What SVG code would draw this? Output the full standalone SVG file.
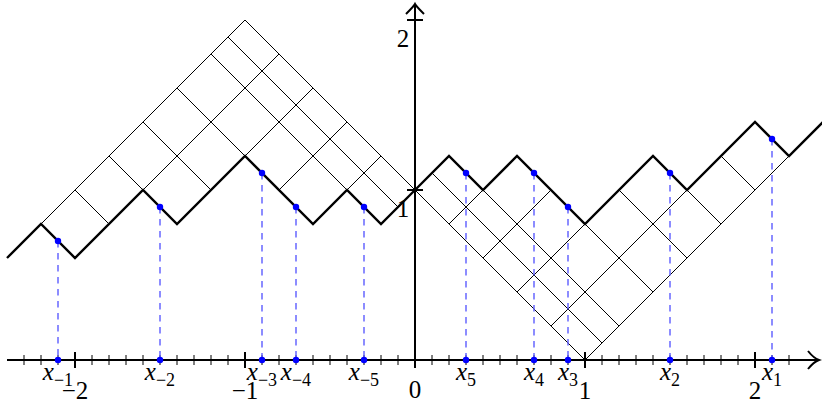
<svg xmlns="http://www.w3.org/2000/svg" width="822" height="405" viewBox="0 0 822 405">
<style>
.grid{stroke:#000;stroke-width:1;fill:none}
.prof{stroke:#000;stroke-width:2.4;fill:none;stroke-linejoin:miter}
.axis{stroke:#000;stroke-width:2;fill:none}
.minor{stroke:#000;stroke-width:1}
.major{stroke:#000;stroke-width:2}
.dash{stroke:#5c5cff;stroke-width:1.4;stroke-dasharray:6.5,5.5}
.dot{fill:#0000ff}
.lab{font-family:"Liberation Serif","DejaVu Serif",serif;font-size:25px;fill:#000;text-anchor:middle}
.var{font-style:italic}
.sub{font-size:18px;font-style:normal}
</style>
<rect width="822" height="405" fill="#fff"/>
<g id="grid" class="grid">
  <!-- left region -->
  <line x1="41" y1="224" x2="245" y2="20"/>
  <line x1="245" y1="20" x2="585" y2="360"/>
  <line x1="75" y1="190" x2="109" y2="224"/>
  <line x1="109" y1="156" x2="143" y2="190"/>
  <line x1="143" y1="122" x2="211" y2="190"/>
  <line x1="177" y1="88" x2="245" y2="156"/>
  <line x1="211" y1="54" x2="347" y2="190"/>
  <line x1="228" y1="37" x2="398" y2="207"/>
  <line x1="143" y1="190" x2="279" y2="54"/>
  <line x1="245" y1="156" x2="313" y2="88"/>
  <line x1="279" y1="190" x2="347" y2="122"/>
  <line x1="347" y1="190" x2="381" y2="156"/>
  <!-- right region -->
  <line x1="585" y1="360" x2="789" y2="156"/>
  <line x1="449" y1="224" x2="483" y2="190"/>
  <line x1="483" y1="258" x2="551" y2="190"/>
  <line x1="517" y1="292" x2="585" y2="224"/>
  <line x1="551" y1="326" x2="687" y2="190"/>
  <line x1="432" y1="173" x2="602" y2="343"/>
  <line x1="449" y1="156" x2="619" y2="326"/>
  <line x1="517" y1="156" x2="653" y2="292"/>
  <line x1="619" y1="190" x2="687" y2="258"/>
  <line x1="653" y1="156" x2="721" y2="224"/>
  <line x1="721" y1="156" x2="755" y2="190"/>
</g>
<g id="profile">
  <polyline class="prof" points="7,258 41,224 75,258 143,190 177,224 245,156 313,224 347,190 381,224 415,190 449,156 483,190 517,156 585,224 653,156 687,190 755,122 789,156 824,121"/>
</g>
<g id="axes">
  <line class="axis" x1="7" y1="360" x2="818" y2="360"/>
  <path class="axis" d="M808,351 C812,356 816,359 819,360 C816,361 812,364 808,369"/>
  <line class="axis" x1="415" y1="360" x2="415" y2="5"/>
  <path class="axis" d="M406,14 C411,9 414,6 415,4 C416,6 419,9 424,14"/>
  <g class="minor">
    <line x1="24" y1="355" x2="24" y2="365"/><line x1="41" y1="355" x2="41" y2="365"/><line x1="58" y1="355" x2="58" y2="365"/>
    <line x1="92" y1="355" x2="92" y2="365"/><line x1="109" y1="355" x2="109" y2="365"/><line x1="126" y1="355" x2="126" y2="365"/>
    <line x1="143" y1="355" x2="143" y2="365"/><line x1="160" y1="355" x2="160" y2="365"/><line x1="177" y1="355" x2="177" y2="365"/>
    <line x1="194" y1="355" x2="194" y2="365"/><line x1="211" y1="355" x2="211" y2="365"/><line x1="228" y1="355" x2="228" y2="365"/>
    <line x1="262" y1="355" x2="262" y2="365"/><line x1="279" y1="355" x2="279" y2="365"/><line x1="296" y1="355" x2="296" y2="365"/>
    <line x1="313" y1="355" x2="313" y2="365"/><line x1="330" y1="355" x2="330" y2="365"/><line x1="347" y1="355" x2="347" y2="365"/>
    <line x1="364" y1="355" x2="364" y2="365"/><line x1="381" y1="355" x2="381" y2="365"/><line x1="398" y1="355" x2="398" y2="365"/>
    <line x1="432" y1="355" x2="432" y2="365"/><line x1="449" y1="355" x2="449" y2="365"/><line x1="466" y1="355" x2="466" y2="365"/>
    <line x1="483" y1="355" x2="483" y2="365"/><line x1="500" y1="355" x2="500" y2="365"/><line x1="517" y1="355" x2="517" y2="365"/>
    <line x1="534" y1="355" x2="534" y2="365"/><line x1="551" y1="355" x2="551" y2="365"/><line x1="568" y1="355" x2="568" y2="365"/>
    <line x1="602" y1="355" x2="602" y2="365"/><line x1="619" y1="355" x2="619" y2="365"/><line x1="636" y1="355" x2="636" y2="365"/>
    <line x1="653" y1="355" x2="653" y2="365"/><line x1="670" y1="355" x2="670" y2="365"/><line x1="687" y1="355" x2="687" y2="365"/>
    <line x1="704" y1="355" x2="704" y2="365"/><line x1="721" y1="355" x2="721" y2="365"/><line x1="738" y1="355" x2="738" y2="365"/>
    <line x1="772" y1="355" x2="772" y2="365"/><line x1="789" y1="355" x2="789" y2="365"/>
  </g>
  <g class="major">
    <line x1="75" y1="352" x2="75" y2="368"/>
    <line x1="245" y1="352" x2="245" y2="368"/>
    <line x1="415" y1="352" x2="415" y2="368"/>
    <line x1="585" y1="352" x2="585" y2="368"/>
    <line x1="755" y1="352" x2="755" y2="368"/>
    <line x1="407" y1="190" x2="423" y2="190"/>
    <line x1="407" y1="20" x2="423" y2="20"/>
  </g>
  <g class="lab">
    <text x="75" y="399">−2</text>
    <text x="245" y="399">−1</text>
    <text x="415" y="398">0</text>
    <text x="585" y="399">1</text>
    <text x="755" y="399">2</text>
    <text x="403" y="217">1</text>
    <text x="403" y="47">2</text>
  </g>
</g>
<g id="points">
  <g id="p-m1"><line class="dash" x1="58" y1="241" x2="58" y2="360"/><circle class="dot" cx="58" cy="241" r="3.2"/><circle class="dot" cx="58" cy="360" r="3.2"/><text class="lab" x="58" y="380"><tspan class="var">x</tspan><tspan class="sub" dy="6">−1</tspan></text></g>
  <g id="p-m2"><line class="dash" x1="160" y1="207" x2="160" y2="360"/><circle class="dot" cx="160" cy="207" r="3.2"/><circle class="dot" cx="160" cy="360" r="3.2"/><text class="lab" x="160" y="380"><tspan class="var">x</tspan><tspan class="sub" dy="6">−2</tspan></text></g>
  <g id="p-m3"><line class="dash" x1="262" y1="173" x2="262" y2="360"/><circle class="dot" cx="262" cy="173" r="3.2"/><circle class="dot" cx="262" cy="360" r="3.2"/><text class="lab" x="262" y="380"><tspan class="var">x</tspan><tspan class="sub" dy="6">−3</tspan></text></g>
  <g id="p-m4"><line class="dash" x1="296" y1="207" x2="296" y2="360"/><circle class="dot" cx="296" cy="207" r="3.2"/><circle class="dot" cx="296" cy="360" r="3.2"/><text class="lab" x="296" y="380"><tspan class="var">x</tspan><tspan class="sub" dy="6">−4</tspan></text></g>
  <g id="p-m5"><line class="dash" x1="364" y1="207" x2="364" y2="360"/><circle class="dot" cx="364" cy="207" r="3.2"/><circle class="dot" cx="364" cy="360" r="3.2"/><text class="lab" x="364" y="380"><tspan class="var">x</tspan><tspan class="sub" dy="6">−5</tspan></text></g>
  <g id="p5"><line class="dash" x1="466" y1="173" x2="466" y2="360"/><circle class="dot" cx="466" cy="173" r="3.2"/><circle class="dot" cx="466" cy="360" r="3.2"/><text class="lab" x="466" y="380"><tspan class="var">x</tspan><tspan class="sub" dy="6">5</tspan></text></g>
  <g id="p4"><line class="dash" x1="534" y1="173" x2="534" y2="360"/><circle class="dot" cx="534" cy="173" r="3.2"/><circle class="dot" cx="534" cy="360" r="3.2"/><text class="lab" x="534" y="380"><tspan class="var">x</tspan><tspan class="sub" dy="6">4</tspan></text></g>
  <g id="p3"><line class="dash" x1="568" y1="207" x2="568" y2="360"/><circle class="dot" cx="568" cy="207" r="3.2"/><circle class="dot" cx="568" cy="360" r="3.2"/><text class="lab" x="568" y="380"><tspan class="var">x</tspan><tspan class="sub" dy="6">3</tspan></text></g>
  <g id="p2"><line class="dash" x1="670" y1="173" x2="670" y2="360"/><circle class="dot" cx="670" cy="173" r="3.2"/><circle class="dot" cx="670" cy="360" r="3.2"/><text class="lab" x="670" y="380"><tspan class="var">x</tspan><tspan class="sub" dy="6">2</tspan></text></g>
  <g id="p1"><line class="dash" x1="772" y1="139" x2="772" y2="360"/><circle class="dot" cx="772" cy="139" r="3.2"/><circle class="dot" cx="772" cy="360" r="3.2"/><text class="lab" x="772" y="380"><tspan class="var">x</tspan><tspan class="sub" dy="6">1</tspan></text></g>
</g>
</svg>
